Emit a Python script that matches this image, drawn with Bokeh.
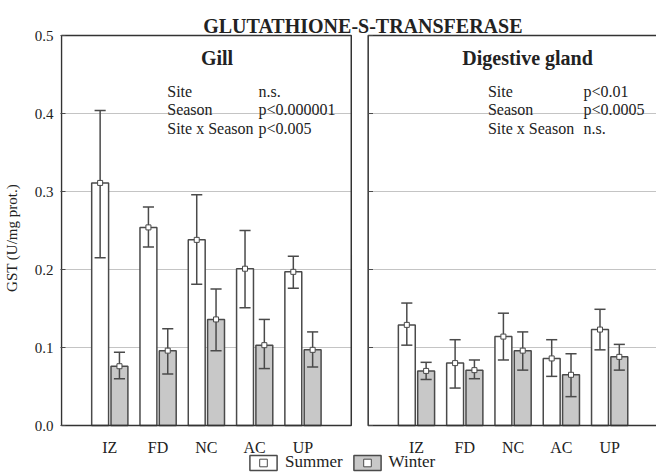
from bokeh.plotting import figure
from bokeh.models import (Range1d, FixedTicker, PrintfTickFormatter, Legend,
                          LegendItem, ColumnDataSource)
from bokeh.core.properties import value
from bokeh.embed import file_html
from bokeh.resources import INLINE

# ---------------- data ----------------
sites = ["IZ", "FD", "NC", "AC", "UP"]

gill_summer = [0.311, 0.254, 0.238, 0.201, 0.197]
gill_summer_lo = [0.215, 0.229, 0.181, 0.151, 0.176]
gill_summer_hi = [0.404, 0.280, 0.296, 0.250, 0.217]
gill_winter = [0.076, 0.096, 0.136, 0.103, 0.097]
gill_winter_lo = [0.060, 0.066, 0.096, 0.073, 0.075]
gill_winter_hi = [0.094, 0.124, 0.175, 0.136, 0.120]

dg_summer = [0.129, 0.080, 0.114, 0.086, 0.123]
dg_summer_lo = [0.103, 0.048, 0.084, 0.063, 0.097]
dg_summer_hi = [0.157, 0.110, 0.144, 0.110, 0.149]
dg_winter = [0.070, 0.071, 0.096, 0.065, 0.088]
dg_winter_lo = [0.059, 0.060, 0.071, 0.037, 0.071]
dg_winter_hi = [0.081, 0.084, 0.120, 0.092, 0.104]

y_ticks = [0.0, 0.1, 0.2, 0.3, 0.4, 0.5]
stat_labels = ["Site", "Season", "Site x Season"]
gill_p = ["n.s.", "p<0.000001", "p<0.005"]
dg_p = ["p<0.01", "p<0.0005", "n.s."]
panel_titles = ["Gill", "Digestive gland"]
main_title = "GLUTATHIONE-S-TRANSFERASE"
series_names = ["Summer", "Winter"]

# ---------------- layout constants ----------------
FONT = "Liberation Serif"
TXT = "#222222"
EDGE = "#4a4a4a"
WINTER_FILL = "#c8c8c8"
GRID = "#c4c4c4"

LEFT_W = 6.0          # width of left panel in x units
RIGHT_ORIGIN = 6.35   # x where right panel starts
X_START, X_END = -0.0207, 12.32
Y_START, Y_END = -0.0641, 0.5449
OFF = 0.2             # bar offset from category centre
BAR_W = 0.35
CAP = 0.115

p = figure(width=656, height=475, output_backend="svg", toolbar_location=None,
           x_range=Range1d(X_START, X_END), y_range=Range1d(Y_START, Y_END),
           x_axis_location=None,
           min_border_left=60, min_border_right=0, min_border_top=0,
           min_border_bottom=0)
p.outline_line_color = None
p.background_fill_color = "white"
p.border_fill_color = "white"
p.xgrid.visible = False
p.ygrid.grid_line_color = GRID
p.ygrid.grid_line_width = 1

# y axis
p.yaxis.ticker = FixedTicker(ticks=y_ticks)
p.yaxis.formatter = PrintfTickFormatter(format="%.1f")
p.yaxis.axis_line_color = None
p.yaxis.major_tick_in = 5
p.yaxis.major_tick_out = 0
p.yaxis.major_tick_line_color = EDGE
p.yaxis.minor_tick_line_color = None
p.yaxis.major_label_standoff = 7
p.yaxis.major_label_text_font = FONT
p.yaxis.major_label_text_font_size = "15px"
p.yaxis.major_label_text_color = TXT
p.yaxis.axis_label = "GST (U/mg prot.)"
p.yaxis.axis_label_text_font = FONT
p.yaxis.axis_label_text_font_size = "15px"
p.yaxis.axis_label_text_font_style = "normal"
p.yaxis.axis_label_text_color = TXT
p.yaxis.axis_label_standoff = 12

# category centres of both panels
left_centres = [i + 1 for i in range(len(sites))]
right_centres = [RIGHT_ORIGIN + i + 1 for i in range(len(sites))]

# gap between panels hides the grid lines
p.quad(left=[LEFT_W], right=[RIGHT_ORIGIN], bottom=[-0.002], top=[0.502],
       fill_color="white", line_color=None)

# bars
sx = [c - OFF for c in left_centres] + [c - OFF for c in right_centres]
wx = [c + OFF for c in left_centres] + [c + OFF for c in right_centres]
s_src = ColumnDataSource(dict(x=sx, top=gill_summer + dg_summer,
                              lo=gill_summer_lo + dg_summer_lo,
                              hi=gill_summer_hi + dg_summer_hi))
w_src = ColumnDataSource(dict(x=wx, top=gill_winter + dg_winter,
                              lo=gill_winter_lo + dg_winter_lo,
                              hi=gill_winter_hi + dg_winter_hi))

r_sb = p.vbar(x="x", top="top", bottom=0, width=BAR_W, source=s_src,
              fill_color="white", line_color=EDGE, line_width=1.5)
r_wb = p.vbar(x="x", top="top", bottom=0, width=BAR_W, source=w_src,
              fill_color=WINTER_FILL, line_color=EDGE, line_width=1.5)

# error bars
for src in (s_src, w_src):
    d = src.data
    p.segment(x0=d["x"], y0=d["lo"], x1=d["x"], y1=d["hi"], line_color=EDGE, line_width=1.5)
    p.segment(x0=[x - CAP for x in d["x"]], y0=d["hi"], x1=[x + CAP for x in d["x"]],
              y1=d["hi"], line_color=EDGE, line_width=1.5)
    p.segment(x0=[x - CAP for x in d["x"]], y0=d["lo"], x1=[x + CAP for x in d["x"]],
              y1=d["lo"], line_color=EDGE, line_width=1.5)

r_sm = p.scatter(x="x", y="top", source=s_src, marker="square", size=5,
                 fill_color="white", line_color=EDGE, line_width=1)
r_wm = p.scatter(x="x", y="top", source=w_src, marker="square", size=5,
                 fill_color="white", line_color=EDGE, line_width=1)

# panel frames
p.quad(left=[0, RIGHT_ORIGIN], right=[LEFT_W, RIGHT_ORIGIN + 6.3], bottom=[0, 0],
       top=[0.5, 0.5], fill_color=None, line_color="#333333", line_width=1.5)

# small inner ticks on right panel's left edge
p.segment(x0=[RIGHT_ORIGIN] * len(y_ticks), y0=y_ticks,
          x1=[RIGHT_ORIGIN + 0.1] * len(y_ticks), y1=y_ticks,
          line_color=EDGE, line_width=1)

# category labels under each panel
p.text(x=left_centres + right_centres, y=[-0.0282] * 10, text=sites + sites,
       text_font=value(FONT), text_font_size="16px", text_align="center",
       text_baseline="alphabetic", text_color=TXT)

# titles
p.text(x=[6.24], y=[0.5128], text=[main_title], text_font=value(FONT),
       text_font_size="20px", text_font_style="bold", text_align="center",
       text_baseline="alphabetic", text_color=TXT)
p.text(x=[3.22, 9.65], y=[0.4718, 0.4718], text=panel_titles, text_font=value(FONT),
       text_font_size="20px", text_font_style="bold", text_align="center",
       text_baseline="alphabetic", text_color=TXT)

# statistics
ys = [0.4288, 0.4051, 0.3814]
p.text(x=[2.19] * 3 + [8.83] * 3, y=ys + ys,
       text=stat_labels + stat_labels, text_font=value(FONT),
       text_font_size="16px", text_align="left", text_baseline="alphabetic",
       text_color=TXT)
p.text(x=[4.08] * 3 + [10.81] * 3, y=ys + ys,
       text=gill_p + dg_p, text_font=value(FONT),
       text_font_size="16px", text_align="left", text_baseline="alphabetic",
       text_color=TXT)

# legend (inside the plotting area, below the category labels)
legend = Legend(items=[LegendItem(label=series_names[0], renderers=[r_sb, r_sm]),
                       LegendItem(label=series_names[1], renderers=[r_wb, r_wm])],
                orientation="horizontal", location=(186, 3),
                glyph_width=34, glyph_height=19, label_height=19,
                label_standoff=5, spacing=7, padding=0, margin=0,
                border_line_color=None, background_fill_alpha=0,
                label_text_font=FONT, label_text_font_size="17px",
                label_text_color=TXT)
p.add_layout(legend)

open("out.html", "w").write(file_html(p, INLINE))
